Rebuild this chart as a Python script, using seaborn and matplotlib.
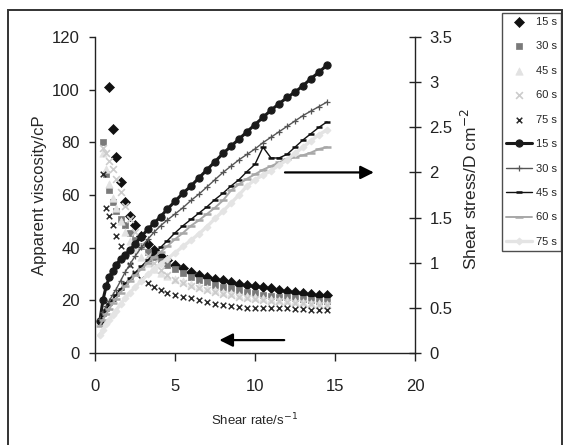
import pandas as pd
import matplotlib.pyplot as plt
from matplotlib.patches import Rectangle
import seaborn as sns

## data
shear_rate = [0.3, 0.5, 0.7, 0.9, 1.1, 1.3, 1.6, 1.9, 2.2, 2.5,
              2.9, 3.3, 3.7, 4.1, 4.5, 5.0, 5.5, 6.0, 6.5, 7.0,
              7.5, 8.0, 8.5, 9.0, 9.5, 10.0, 10.5, 11.0, 11.5, 12.0,
              12.5, 13.0, 13.5, 14.0, 14.5]

times = ['15 s', '30 s', '45 s', '60 s', '75 s']

# apparent viscosity (cP), left axis
visc_15 = [None, None, None, 101, 85, 74.5, 65, 57.5, 52, 48.5,
           44.5, 41.5, 39, 37, 35.3, 33.6, 32.2, 30.8, 29.8, 29,
           28.2, 27.6, 27, 26.3, 25.8, 25.3, 24.9, 24.5, 24, 23.6,
           23.2, 22.8, 22.5, 22.2, 22]
visc_30 = [None, 80, 68, 62, 57.5, 54, 51, 48.5, 45.5, 43,
           40.5, 38.5, 36.5, 35, 33.5, 31.8, 30.3, 29, 27.8, 26.8,
           26, 25.2, 24.5, 23.8, 23.2, 22.7, 22.2, 21.8, 21.4, 21.1,
           20.8, 20.5, 20.2, 19.9, 19.6]
visc_45 = [None, 76, 70, 64, 59, 55, 50, 46, 42.5, 39.5,
           36.5, 34, 32, 30.5, 29.3, 28.2, 27.2, 26.3, 25.5, 24.7,
           24, 23.3, 22.7, 22.2, 21.7, 21.3, 21, 20.6, 20.3, 20,
           19.7, 19.4, 19.1, 18.9, 18.6]
visc_60 = [None, 78, 76, 73, 70, 66, 61, 56, 51, 46,
           41, 37, 34, 31.5, 29.5, 27.8, 26.5, 25.5, 24.6, 23.8,
           23.1, 22.5, 21.9, 21.4, 21, 20.6, 20.2, 19.9, 19.6, 19.3,
           19, 18.8, 18.6, 18.4, 18.2]
visc_75 = [None, 68, 55, 52, 48.5, 44.5, 40.5, 37, 33.5, 30.5,
           28, 26.4, 25, 23.8, 22.8, 22, 21.3, 20.7, 20.1, 19.4,
           18.7, 18.2, 17.8, 17.4, 17.1, 17, 17, 17, 17, 16.9,
           16.8, 16.7, 16.5, 16.4, 16.3]

# shear stress (D cm-2), right axis
stress_15 = [0.35, 0.59, 0.74, 0.84, 0.91, 0.97, 1.04, 1.09, 1.14, 1.21,
             1.29, 1.37, 1.44, 1.51, 1.59, 1.68, 1.77, 1.85, 1.94, 2.03,
             2.12, 2.21, 2.29, 2.37, 2.45, 2.53, 2.61, 2.69, 2.76, 2.83,
             2.89, 2.96, 3.04, 3.11, 3.19]
stress_30 = [0.38, 0.45, 0.52, 0.58, 0.64, 0.70, 0.80, 0.90, 0.99, 1.07,
             1.17, 1.26, 1.34, 1.41, 1.47, 1.54, 1.61, 1.69, 1.76, 1.84,
             1.92, 2.00, 2.07, 2.14, 2.20, 2.26, 2.33, 2.39, 2.45, 2.51,
             2.57, 2.63, 2.68, 2.73, 2.78]
stress_45 = [0.35, 0.42, 0.48, 0.54, 0.59, 0.64, 0.71, 0.77, 0.83, 0.89,
             0.96, 1.03, 1.10, 1.17, 1.24, 1.33, 1.41, 1.48, 1.55, 1.62,
             1.70, 1.77, 1.85, 1.92, 2.01, 2.09, 2.28, 2.16, 2.16, 2.20,
             2.28, 2.36, 2.43, 2.50, 2.56]
stress_60 = [0.30, 0.37, 0.43, 0.49, 0.55, 0.60, 0.67, 0.74, 0.80, 0.86,
             0.93, 1.00, 1.06, 1.12, 1.18, 1.26, 1.33, 1.41, 1.47, 1.54,
             1.61, 1.69, 1.80, 1.87, 1.93, 1.98, 2.03, 2.07, 2.11, 2.15,
             2.17, 2.19, 2.22, 2.26, 2.28]
stress_75 = [0.20, 0.26, 0.32, 0.37, 0.42, 0.47, 0.54, 0.61, 0.67, 0.73,
             0.80, 0.87, 0.93, 0.99, 1.04, 1.11, 1.18, 1.25, 1.32, 1.40,
             1.49, 1.57, 1.66, 1.75, 1.85, 1.92, 1.97, 2.02, 2.08, 2.14,
             2.21, 2.28, 2.35, 2.42, 2.47]

x_ticks = [0, 5, 10, 15, 20]
visc_ticks = [0, 20, 40, 60, 80, 100, 120]
stress_ticks = [0, 0.5, 1, 1.5, 2, 2.5, 3, 3.5]
stress_ticklabels = ['0', '0.5', '1', '1.5', '2', '2.5', '3', '3.5']


## build long tables
visc_df = pd.DataFrame({t: v for t, v in zip(times, [visc_15, visc_30, visc_45, visc_60, visc_75])},
                       dtype=float)
visc_df['rate'] = shear_rate
visc_df = visc_df.melt(id_vars='rate', var_name='time', value_name='visc').dropna()

stress_df = pd.DataFrame({t: v for t, v in zip(times, [stress_15, stress_30, stress_45, stress_60, stress_75])})
stress_df['rate'] = shear_rate
stress_df = stress_df.melt(id_vars='rate', var_name='time', value_name='stress')

# styles
visc_style = {
    '15 s': dict(marker='D', color='#111111', s=26, edgecolor='#111111', linewidth=0.5),
    '30 s': dict(marker='s', color='#7a7a7a', s=24, edgecolor='#7a7a7a', linewidth=0.5),
    '45 s': dict(marker='^', color='#e2e2e2', s=28, edgecolor='#e2e2e2', linewidth=0.5),
    '60 s': dict(marker='x', color='#cccccc', s=24, linewidth=1.2),
    '75 s': dict(marker='x', color='#2a2a2a', s=16, linewidth=1.1),
}
stress_style = {
    '15 s': dict(color='#1a1a1a', lw=2.2, marker='o', markersize=5.2),
    '30 s': dict(color='#555555', lw=1.0, marker='+', markersize=5, markeredgewidth=0.9),
    '45 s': dict(color='#111111', lw=1.0, marker='_', markersize=5, markeredgewidth=1.8),
    '60 s': dict(color='#a8a8a8', lw=1.4, marker='_', markersize=6, markeredgewidth=1.8),
    '75 s': dict(color='#e4e4e4', lw=2.4, marker='D', markersize=3.5),
}
for st in stress_style.values():
    st['markeredgecolor'] = st['color']
    st['markerfacecolor'] = st['color']

sns.set_style('white')
plt.rcParams['font.family'] = ['Liberation Sans', 'DejaVu Sans']

W, H = 566, 445
fig = plt.figure(figsize=(W / 100, H / 100), dpi=100)
ax = fig.add_axes([95 / W, 1 - 353 / H, 320 / W, 316 / H])
ax2 = ax.twinx()

# viscosity markers
for t in times:
    sub = visc_df[visc_df['time'] == t]
    sns.scatterplot(data=sub, x='rate', y='visc', ax=ax, label=t, zorder=2, **visc_style[t])

# shear stress lines
for t in times:
    sub = stress_df[stress_df['time'] == t]
    sns.lineplot(data=sub, x='rate', y='stress', ax=ax2, label=t, sort=False,
                 estimator=None, **stress_style[t])

h1, l1 = ax.get_legend_handles_labels()
h2, l2 = ax2.get_legend_handles_labels()
for a in (ax, ax2):
    if a.get_legend() is not None:
        a.get_legend().remove()

# axes, ticks
ax.set_xlim(0, 20)
ax.set_ylim(0, 120)
ax2.set_ylim(0, 3.5)
ax.set_xticks(x_ticks)
ax.set_xticklabels([str(v) for v in x_ticks])
ax.set_yticks(visc_ticks)
ax.set_yticklabels([str(v) for v in visc_ticks])
ax2.set_yticks(stress_ticks)
ax2.set_yticklabels(stress_ticklabels)

for a in (ax, ax2):
    for side in a.spines:
        a.spines[side].set_visible(False)
ax.spines['left'].set_visible(True)
ax.spines['bottom'].set_visible(True)
ax2.spines['right'].set_visible(True)
for sp in (ax.spines['left'], ax.spines['bottom'], ax2.spines['right']):
    sp.set_color('#222222')
    sp.set_linewidth(1.0)

ax.tick_params(axis='y', direction='out', length=4, width=1, pad=7, labelsize=12,
               left=True, colors='#222222', labelcolor='#222222')
ax.tick_params(axis='x', direction='out', length=6, width=1, pad=13, labelsize=12,
               bottom=True, colors='#222222', labelcolor='#222222')
ax2.tick_params(axis='y', direction='inout', length=9, width=1, pad=6, labelsize=12,
                right=True, colors='#222222', labelcolor='#222222')

ax.set_xlabel('Shear rate/s$^{-1}$', fontsize=9.5)
ax.xaxis.set_label_coords(0.5, -0.185)
ax.set_ylabel('Apparent viscosity/cP', fontsize=12)
ax.yaxis.set_label_coords(-0.15, 0.5)
ax2.set_ylabel('Shear stress/D cm$^{-2}$', fontsize=12.5)
ax2.yaxis.set_label_coords(1.14, 0.52)
ax.grid(False)
ax2.grid(False)

# arrows
ax2.annotate('', xy=(17.6, 2.0), xytext=(11.7, 2.0),
             arrowprops=dict(arrowstyle='-|>', color='black', lw=1.6, mutation_scale=20))
ax.annotate('', xy=(7.6, 4.9), xytext=(12.0, 4.9),
            arrowprops=dict(arrowstyle='-|>', color='black', lw=1.6, mutation_scale=20))

# legend
leg = fig.legend(h1 + h2, l1 + l2, loc='upper right', bbox_to_anchor=(561 / W, 1 - 13 / H),
                 frameon=True, fancybox=False, edgecolor='#222222', fontsize=8,
                 labelspacing=1.3, handlelength=2.4, handletextpad=0.35, borderpad=0.35,
                 borderaxespad=0)
leg.get_frame().set_linewidth(1.0)

# outer frame
fig.patches.append(Rectangle((8 / W, -0.05), (562 - 8) / W, 1.05 - 10 / H, transform=fig.transFigure,
                             fill=False, edgecolor='#333333', linewidth=1.4, clip_on=False))

fig.savefig('out.png', dpi=100)
